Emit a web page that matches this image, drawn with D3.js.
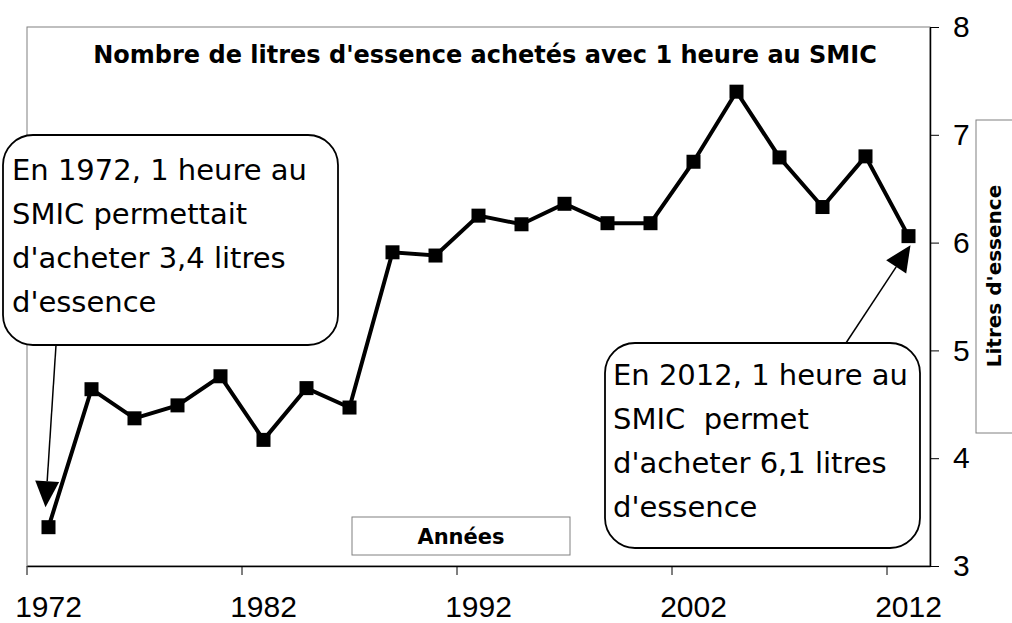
<!DOCTYPE html>
<html>
<head>
<meta charset="utf-8">
<script src="https://cdn.jsdelivr.net/npm/d3@7"></script>
<style>
  body { margin: 0; background: #fff; }
  svg { display: block; }
</style>
</head>
<body>
<div id="chart"></div>
<script>
// années (un point tous les 2 ans)
const years = [1972, 1974, 1976, 1978, 1980, 1982, 1984, 1986, 1988, 1990, 1992,
  1994, 1996, 1998, 2000, 2002, 2004, 2006, 2008, 2010, 2012]
// litres d'essence pour 1 heure au SMIC
const litres = [3.36, 4.64, 4.37, 4.49, 4.76, 4.17, 4.65, 4.47, 5.91, 5.88, 6.25,
  6.17, 6.36, 6.18, 6.18, 6.75, 7.40, 6.79, 6.33, 6.80, 6.06]
const xTicks = [1972, 1982, 1992, 2002, 2012]
const yTicks = [3, 4, 5, 6, 7, 8]

const title = "Nombre de litres d'essence achetés avec 1 heure au SMIC"
const xTitle = 'Années'
const yTitle = "Litres d'essence"
const note1 = ['En 1972, 1 heure au', 'SMIC permettait', "d'acheter 3,4 litres", "d'essence"]
const note2 = ['En 2012, 1 heure au', 'SMIC  permet', "d'acheter 6,1 litres", "d'essence"]

const W = 1012
const H = 623
const margin = { top: 27, right: 82, bottom: 57, left: 27 }
const comic = "'DejaVu Sans', sans-serif"
const arial = "'Liberation Sans', Arial, sans-serif"

const svg = d3.select('#chart').append('svg')
  .attr('width', W)
  .attr('height', H)

const x = d3.scaleBand()
  .domain(years)
  .range([margin.left, W - margin.right])
  .padding(0)
const bw = x.bandwidth()
const cx = d => x(d) + bw / 2

const y = d3.scaleLinear()
  .domain([3, 8])
  .range([H - margin.bottom, margin.top])

// cadre de la zone de tracé
svg.append('rect')
  .attr('x', margin.left)
  .attr('y', margin.top)
  .attr('width', W - margin.right - margin.left)
  .attr('height', H - margin.bottom - margin.top)
  .attr('fill', '#fff')
  .attr('stroke', '#808080')
  .attr('stroke-width', 1)

// axe X
const gx = svg.append('g')
  .attr('transform', 'translate(0,' + (H - margin.bottom) + ')')
  .call(d3.axisBottom(x).tickValues(xTicks).tickSize(9).tickSizeOuter(0).tickPadding(21))
gx.attr('font-family', arial)
gx.select('.domain').attr('stroke', '#000').attr('stroke-width', 1.5)
gx.selectAll('.tick line').attr('transform', 'translate(' + (-bw / 2) + ',0)').attr('stroke', '#000')
gx.selectAll('.tick text')
  .attr('font-family', arial)
  .attr('font-size', 30)
  .attr('fill', '#000')

// axe Y (à droite)
const gy = svg.append('g')
  .attr('transform', 'translate(' + (W - margin.right) + ',0)')
  .call(d3.axisRight(y).tickValues(yTicks).tickFormat(d3.format('d'))
    .tickSize(9).tickSizeOuter(0).tickPadding(14))
gy.attr('font-family', arial)
gy.select('.domain').attr('stroke', '#000').attr('stroke-width', 1.5)
gy.selectAll('.tick line').attr('stroke', '#000')
gy.selectAll('.tick text')
  .attr('font-family', arial)
  .attr('font-size', 30)
  .attr('fill', '#000')

// titre
svg.append('text')
  .attr('x', 485)
  .attr('y', 63)
  .attr('text-anchor', 'middle')
  .attr('font-family', comic)
  .attr('font-weight', 'bold')
  .attr('font-size', 24)
  .text(title)

// titre axe X
svg.append('rect')
  .attr('x', 352).attr('y', 517).attr('width', 218).attr('height', 38)
  .attr('fill', '#fff').attr('stroke', '#808080')
svg.append('text')
  .attr('x', 461).attr('y', 544)
  .attr('text-anchor', 'middle')
  .attr('font-family', comic)
  .attr('font-weight', 'bold')
  .attr('font-size', 21)
  .text(xTitle)

// titre axe Y
svg.append('rect')
  .attr('x', 976).attr('y', 120).attr('width', 60).attr('height', 313)
  .attr('fill', '#fff').attr('stroke', '#808080')
svg.append('text')
  .attr('transform', 'translate(1001,276) rotate(-90)')
  .attr('text-anchor', 'middle')
  .attr('font-family', comic)
  .attr('font-weight', 'bold')
  .attr('font-size', 20)
  .text(yTitle)

// courbe
const line = d3.line()
  .x((d, i) => cx(years[i]))
  .y(d => y(d))
svg.append('path')
  .datum(litres)
  .attr('d', line)
  .attr('fill', 'none')
  .attr('stroke', '#000')
  .attr('stroke-width', 4)
  .attr('stroke-linejoin', 'miter')

svg.selectAll('rect.pt')
  .data(litres)
  .join('rect')
  .attr('class', 'pt')
  .attr('x', (d, i) => cx(years[i]) - 7)
  .attr('y', d => y(d) - 7)
  .attr('width', 14)
  .attr('height', 14)
  .attr('fill', '#000')

// bulles d'annotation
function bubble (x0, y0, w, h, lines, tx, ty) {
  svg.append('rect')
    .attr('x', x0).attr('y', y0).attr('width', w).attr('height', h)
    .attr('rx', 30).attr('ry', 30)
    .attr('fill', '#fff')
    .attr('stroke', '#000')
    .attr('stroke-width', 1.8)
  svg.append('text')
    .attr('font-family', comic)
    .attr('font-size', 29)
    .attr('fill', '#000')
    .selectAll('tspan')
    .data(lines)
    .join('tspan')
    .attr('x', tx)
    .attr('y', (d, i) => ty + i * 44)
    .style('white-space', 'pre')
    .text(d => d)
}

function arrow (x1, y1, x2, y2) {
  const a = Math.atan2(y2 - y1, x2 - x1)
  const len = 26
  const hw = 12
  const bx = x2 - len * Math.cos(a)
  const by = y2 - len * Math.sin(a)
  svg.append('line')
    .attr('x1', x1).attr('y1', y1).attr('x2', bx).attr('y2', by)
    .attr('stroke', '#000').attr('stroke-width', 1.5)
  svg.append('path')
    .attr('d', 'M' + x2 + ',' + y2 +
      'L' + (bx + hw * Math.sin(a)) + ',' + (by - hw * Math.cos(a)) +
      'L' + (bx - hw * Math.sin(a)) + ',' + (by + hw * Math.cos(a)) + 'Z')
    .attr('fill', '#000')
}

bubble(3, 135, 335, 210, note1, 12, 180)
bubble(605, 343, 315, 205, note2, 613, 385)

arrow(56, 345, cx(years[0]) - 3, y(litres[0]) - 20)
arrow(846, 343, cx(years[years.length - 1]) + 2, y(litres[litres.length - 1]) + 9)
</script>
</body>
</html>
